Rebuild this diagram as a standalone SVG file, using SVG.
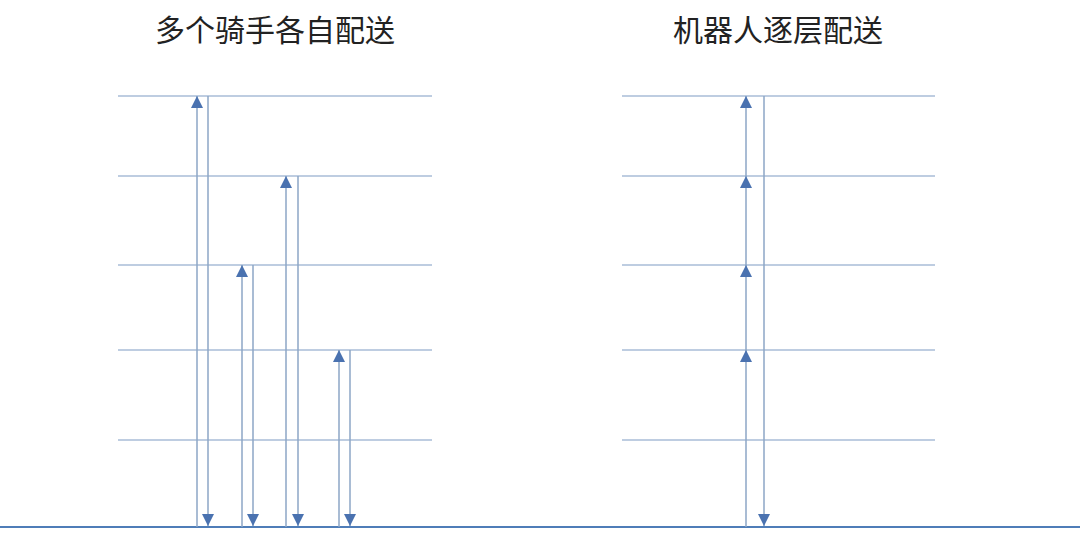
<svg xmlns="http://www.w3.org/2000/svg" width="1080" height="539" viewBox="0 0 1080 539">
<style>
.lvl{stroke:#7f9cc4;stroke-width:1.2;fill:none}
.v{stroke:#8da6c6;stroke-width:1.5;fill:none}
.up{marker-end:url(#ah)}
.dn{marker-end:url(#ah)}
.base{stroke:#4f7db8;stroke-width:2.2}
.title{font-family:"Microsoft YaHei","Noto Sans CJK SC",sans-serif;font-size:30px;fill:#222;text-anchor:middle}
</style>
<defs>
<marker id="ah" markerUnits="userSpaceOnUse" markerWidth="12" markerHeight="12" viewBox="0 0 10 10" refX="10" refY="5" orient="auto">
<path d="M0,0 L10,5 L0,10 Z" fill="#4a72b0"/>
</marker>
</defs>
<rect width="1080" height="539" fill="#fff"/>
<g id="title-left"><text class="title" x="275" y="41">多个骑手各自配送</text></g>
<g id="title-right"><text class="title" x="778" y="41">机器人逐层配送</text></g>
<g id="levels-left">
<line class="lvl" x1="118" y1="96" x2="432" y2="96"/>
<line class="lvl" x1="118" y1="176" x2="432" y2="176"/>
<line class="lvl" x1="118" y1="265" x2="432" y2="265"/>
<line class="lvl" x1="118" y1="350" x2="432" y2="350"/>
<line class="lvl" x1="118" y1="440" x2="432" y2="440"/>
</g>
<g id="levels-right">
<line class="lvl" x1="622" y1="96" x2="935" y2="96"/>
<line class="lvl" x1="622" y1="176" x2="935" y2="176"/>
<line class="lvl" x1="622" y1="265" x2="935" y2="265"/>
<line class="lvl" x1="622" y1="350" x2="935" y2="350"/>
<line class="lvl" x1="622" y1="440" x2="935" y2="440"/>
</g>
<g id="ground"><line class="base" x1="0" y1="527" x2="1080" y2="527"/></g>
<g id="connectors">
<line class="v up" x1="197" y1="527" x2="197" y2="96"/>
<line class="v dn" x1="208" y1="96" x2="208" y2="526"/>
<line class="v up" x1="242" y1="527" x2="242" y2="265"/>
<line class="v dn" x1="253" y1="265" x2="253" y2="526"/>
<line class="v up" x1="286" y1="527" x2="286" y2="176"/>
<line class="v dn" x1="298" y1="176" x2="298" y2="526"/>
<line class="v up" x1="339" y1="527" x2="339" y2="350"/>
<line class="v dn" x1="350" y1="350" x2="350" y2="526"/>
<line class="v up" x1="746" y1="527" x2="746" y2="350"/>
<line class="v up" x1="746" y1="350" x2="746" y2="265"/>
<line class="v up" x1="746" y1="265" x2="746" y2="176"/>
<line class="v up" x1="746" y1="176" x2="746" y2="96"/>
<line class="v dn" x1="764" y1="96" x2="764" y2="526"/>
</g>
</svg>
